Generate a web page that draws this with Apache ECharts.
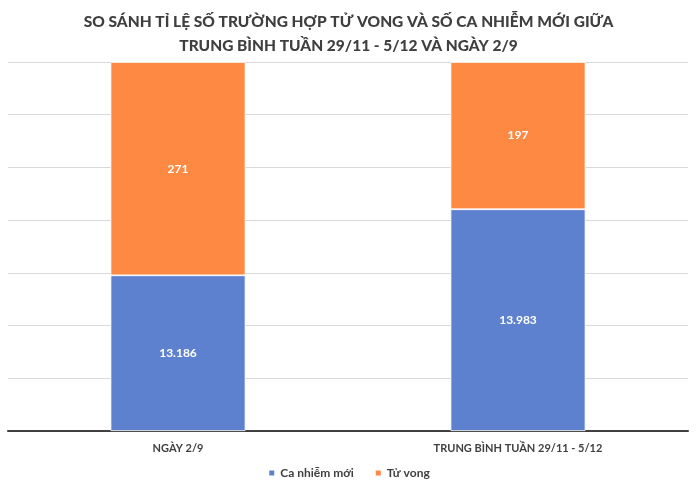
<!DOCTYPE html>
<html><head><meta charset="utf-8">
<script src="https://cdn.jsdelivr.net/npm/echarts@6/dist/echarts.min.js"></script>
<style>html,body{margin:0;padding:0;background:#fff}#c{width:697px;height:492px}</style>
</head><body><div id="c"></div>
<script>
const categories = ['NGÀY 2/9', 'TRUNG BÌNH TUẦN 29/11 - 5/12'];
const newCases = [13186, 13983];
const deaths = [271, 197];
// bar heights as drawn in the reference (share of each bar, %)
const caseShare = [42.2, 60.1];
const deathShare = [57.8, 39.9];
const seriesNames = ['Ca nhiễm mới', 'Tử vong'];
const titleLines = ['SO SÁNH TỈ LỆ SỐ TRƯỜNG HỢP TỬ VONG VÀ SỐ CA NHIỄM MỚI GIỮA', 'TRUNG BÌNH TUẦN 29/11 - 5/12 VÀ NGÀY 2/9'];

const fmt = v => String(v).replace(/\B(?=(\d{3})+(?!\d))/g, '.');
const font = 'Lato, "Open Sans", sans-serif';
const chart = echarts.init(document.getElementById('c'));
chart.setOption({
  animation: false,
  title: {
    text: titleLines.join('\n'), left: 'center', top: 5,
    textStyle: {fontFamily: font, fontSize: 15.5, fontWeight: 900, color: '#3f3f3f', lineHeight: 24}
  },
  legend: {
    bottom: 8, left: 'center', itemWidth: 7, itemHeight: 7, itemGap: 20,
    icon: 'rect',
    textStyle: {fontFamily: font, fontSize: 12, color: '#404040', fontWeight: 'bold'}
  },
  grid: {left: 8, right: 9, top: 62, bottom: 61},
  xAxis: {
    type: 'category', data: categories,
    axisLine: {lineStyle: {color: '#404040', width: 2}},
    axisTick: {show: false},
    axisLabel: {fontFamily: font, fontSize: 11, fontWeight: 'bold', color: '#404040', margin: 12}
  },
  yAxis: {
    type: 'value', min: 0, max: 100, interval: 100 / 7,
    axisLabel: {show: false}, axisLine: {show: false}, axisTick: {show: false},
    splitLine: {lineStyle: {color: '#d9d9d9', width: 1}}
  },
  series: [
    {name: seriesNames[0], type: 'bar', stack: 's', barWidth: '39.7%',
     data: caseShare.map((v, i) => ({value: v, real: newCases[i]})),
     itemStyle: {color: '#5E81CF', borderColor: '#ffffff', borderWidth: 0.8},
     label: {show: true, position: 'inside', color: '#fff', fontFamily: font, fontSize: 12, fontWeight: 'bold',
       formatter: p => fmt(newCases[p.dataIndex])}},
    {name: seriesNames[1], type: 'bar', stack: 's', barWidth: '39.7%',
     data: deathShare.map((v, i) => ({value: v, real: deaths[i]})),
     itemStyle: {color: '#FD8942', borderColor: '#ffffff', borderWidth: 0.8},
     label: {show: true, position: 'inside', color: '#fff', fontFamily: font, fontSize: 12, fontWeight: 'bold',
       formatter: p => fmt(deaths[p.dataIndex])}}
  ]
});
</script></body></html>
